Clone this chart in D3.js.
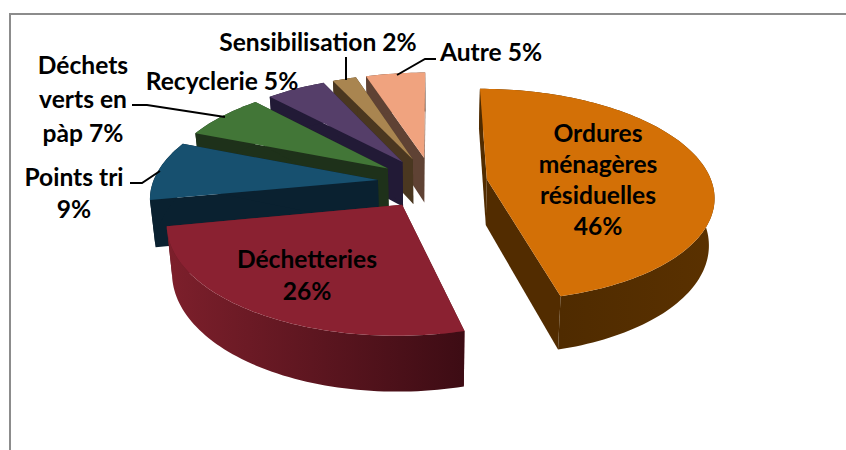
<!DOCTYPE html>
<html>
<head>
<meta charset="utf-8">
<script src="https://cdn.jsdelivr.net/npm/d3@7"></script>
<style>
    html, body { margin: 0; padding: 0; background: #fff; }
    svg { display: block; }
    text { font-family: Lato, "Open Sans", sans-serif; font-weight: 700; font-size: 24.6px; fill: #000; }
</style>
</head>
<body>
<svg id="chart" width="846" height="450"></svg>
<script>
const categories = ['Ordures ménagères résiduelles', 'Déchetteries', 'Points tri', 'Déchets verts en pàp', 'Recyclerie', 'Sensibilisation', 'Autre'];
const values = [46, 26, 9, 7, 5, 2, 5];
const topColors = ['#d37006', '#8a2131', '#17506f', '#427637', '#553e69', '#a98550', '#f0a37f'];
const wallColors = ['#522c00', '#5e1822', '#0a2130', '#1e311a', '#221a36', '#4a3720', '#5f4234'];

// Label text and where it sits, one entry per slice
const labelLines = [
    ['Ordures', 'ménagères', 'résiduelles', '46%'],
    ['Déchetteries', '26%'],
    ['Points tri', '9%'],
    ['Déchets', 'verts en', 'pàp 7%'],
    ['Recyclerie 5%'],
    ['Sensibilisation 2%'],
    ['Autre 5%']
];
const labelAnchors = [[598, 133], [307, 259], [74, 177], [83, 65], [222, 81], [318, 42], [491, 52]];
const labelSteps = [31, 32, 32, 34, 0, 0, 0];
const leaders = [
    null,
    null,
    [[130, 183], [142, 183], [160, 171]],
    [[132, 105], [147, 105], [225, 117]],
    null,
    [[346, 57], [346, 80]],
    [[397, 75], [425, 59], [436, 59]]
];

// Perspective settings of the 3D pie
const cx = 432.5, cy = 182.5;
const radius = 225, explode = 55, depth = 46;
const squash = 0.465, perspective = 0.00065, bottomScale = 0.98;

const svg = d3.select('#chart');

// Frame of the chart area, only top and left are visible
svg.append('path')
    .attr('d', 'M10,450V14H846')
    .attr('fill', 'none')
    .attr('stroke', '#8c8c8c')
    .attr('stroke-width', 2);

const defs = svg.append('defs');

function addGradient(id, x1, x2, from, to) {
    const grad = defs.append('linearGradient')
        .attr('id', id)
        .attr('gradientUnits', 'userSpaceOnUse')
        .attr('x1', x1).attr('x2', x2)
        .attr('y1', 0).attr('y2', 0);
    grad.append('stop').attr('offset', 0).attr('stop-color', from);
    grad.append('stop').attr('offset', 1).attr('stop-color', to);
}
addGradient('rim0', 560, 712, '#4f2b00', '#5a3100');
addGradient('rim1', 172, 464, '#7c1f2b', '#3d0c14');

// Ground plane (X right, Y away from the viewer) to screen
function project(X, Y, isBottom) {
    const w = 1 + perspective * Y;
    const q = isBottom ? bottomScale : 1;
    return [
        cx + q * X / w,
        cy - squash * Y / w + (isBottom ? depth / w : 0)
    ];
}

const arcs = d3.pie().sort(null).startAngle(0).endAngle(2 * Math.PI)(values);
const line = d3.line();

const slices = arcs.map((d, i) => {
    const mid = (d.startAngle + d.endAngle) / 2;
    const ox = explode * Math.sin(mid);
    const oy = explode * Math.cos(mid);
    const rim = (a, isBottom) => project(ox + radius * Math.sin(a), oy + radius * Math.cos(a), isBottom);
    const steps = Math.max(8, Math.round((d.endAngle - d.startAngle) * 40));
    const angles = d3.range(steps + 1).map(k => d.startAngle + (d.endAngle - d.startAngle) * k / steps);
    return {
        index: i,
        apexTop: project(ox, oy, false),
        apexBottom: project(ox, oy, true),
        rimTop: angles.map(a => rim(a, false)),
        rimBottom: angles.map(a => rim(a, true))
    };
});

// Painter order, back slices first and the exploded front ones last
const drawOrder = [6, 5, 4, 3, 2, 0, 1];

drawOrder.forEach(i => {
    const s = slices[i];
    const g = svg.append('g').attr('class', 'slice').attr('data-name', categories[i]);
    const rimFill = i < 2 ? `url(#rim${i})` : wallColors[i];

    // straight walls along both cut edges
    const first = 0, last = s.rimTop.length - 1;
    [first, last].forEach(k => {
        g.append('path')
            .attr('d', line([s.apexTop, s.rimTop[k], s.rimBottom[k], s.apexBottom]) + 'Z')
            .attr('fill', wallColors[i]);
    });

    // outer curved wall
    g.append('path')
        .attr('d', line(s.rimTop.concat(s.rimBottom.slice().reverse())) + 'Z')
        .attr('fill', rimFill);

    // top face
    g.append('path')
        .attr('d', line([s.apexTop].concat(s.rimTop)) + 'Z')
        .attr('fill', topColors[i]);
});

// Leader lines
leaders.forEach(pts => {
    if (!pts) return;
    svg.append('path')
        .attr('d', line(pts))
        .attr('fill', 'none')
        .attr('stroke', '#000')
        .attr('stroke-width', 2);
});

// Labels
labelLines.forEach((lines, i) => {
    const [x, y] = labelAnchors[i];
    lines.forEach((txt, k) => {
        svg.append('text')
            .attr('x', x)
            .attr('y', y + k * labelSteps[i])
            .attr('dy', '0.35em')
            .attr('text-anchor', 'middle')
            .text(txt);
    });
});
</script>
</body>
</html>
